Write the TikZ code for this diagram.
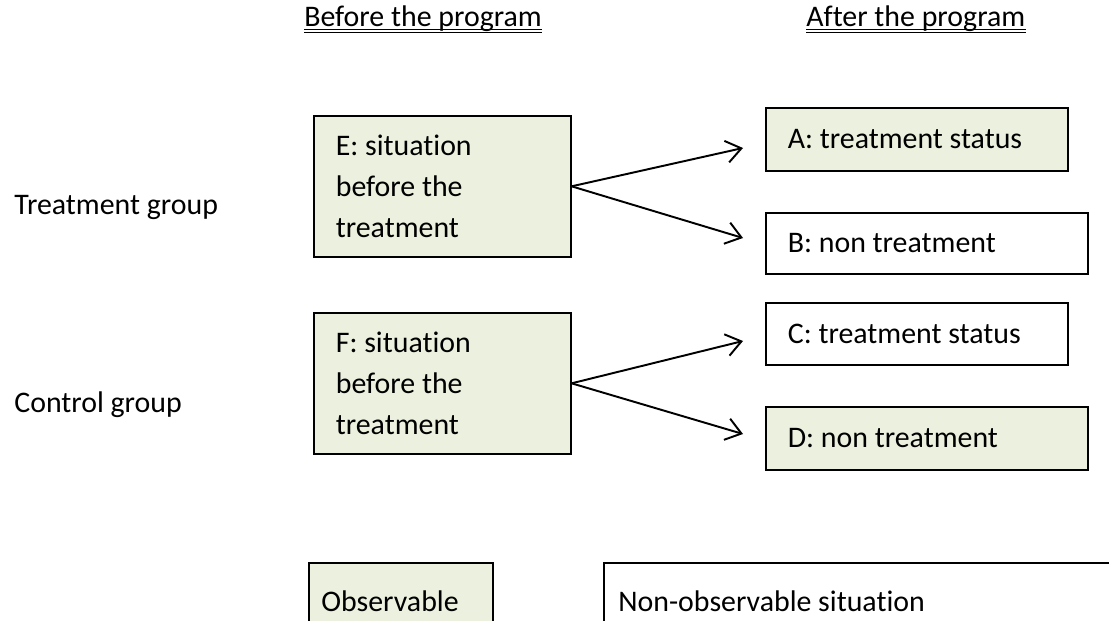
\documentclass[tikz,border=0pt]{standalone}
\usepackage{fontspec}
\setmainfont{Carlito}[Ligatures=NoCommon]
\usepackage{tikz}
\usetikzlibrary{arrows.meta}
\definecolor{obsgreen}{RGB}{235,241,222}
\tikzset{>={Straight Barb[length=0.3cm,width=0.44cm]}}
\tikzset{
  box/.style={draw, line width=0.95pt, anchor=north west, inner xsep=0.44cm, inner ysep=0pt, align=flush left},
  title/.style={anchor=base west, inner sep=0pt},
  uline/.style={line width=0.6pt},
}

\begin{document}
\begin{tikzpicture}[x=0.02cm, y=-0.02cm, font=\fontsize{17}{23.3}\selectfont]
      \clip (0,0) rectangle (1109,621);
      \node[title] (T1) at (304,27) {Before the program};
      \node[title] (T2) at (806,27) {After the program};
      \draw[uline] ([yshift=-0.05cm]T1.base west) -- ([yshift=-0.05cm]T1.base east);
      \draw[uline] ([yshift=-0.11cm]T1.base west) -- ([yshift=-0.11cm]T1.base east);
      \draw[uline] ([yshift=-0.05cm]T2.base west) -- ([yshift=-0.05cm]T2.base east);
      \draw[uline] ([yshift=-0.11cm]T2.base west) -- ([yshift=-0.11cm]T2.base east);
      \node[title] (G1) at (14,215) {Treatment group};
      \node[title] (G2) at (14,413) {Control group};
      \node[box, fill=obsgreen, minimum width=5.14cm, text width=4.26cm, minimum height=2.82cm] (E) at (313,115) {E: situation\\before the\\treatment};
      \node[box, fill=obsgreen, minimum width=5.14cm, text width=4.26cm, minimum height=2.82cm] (F) at (313,312) {F: situation\\before the\\treatment};
      \node[box, fill=obsgreen, minimum width=6.04cm, text width=5.16cm, minimum height=1.26cm] (A) at (765,107) {A: treatment status};
      \node[box, minimum width=6.44cm, text width=5.56cm, minimum height=1.22cm] (B) at (765,212) {B: non treatment};
      \node[box, minimum width=6.04cm, text width=5.16cm, minimum height=1.24cm] (C) at (765,302) {C: treatment status};
      \node[box, fill=obsgreen, minimum width=6.44cm, text width=5.56cm, minimum height=1.26cm] (D) at (765,406) {D: non treatment};
      % legend boxes run off the bottom edge
      \draw[line width=0.95pt, fill=obsgreen] (309,630) |- (493,563) -- (493,630);
      \draw[line width=0.95pt] (604,630) |- (1120,563);
      \node[title] (O) at (321,611) {Observable};
      \node[title] (N) at (618,611) {Non-observable situation};
      \coordinate (eA) at (743,148);
      \coordinate (eB) at (743,238);
      \coordinate (fC) at (743,341);
      \coordinate (fD) at (743,434);
      \draw[->, line width=1.1pt] (E.east) -- (eA);
      \draw[->, line width=1.1pt] (E.east) -- (eB);
      \draw[->, line width=1.1pt] (F.east) -- (fC);
      \draw[->, line width=1.1pt] (F.east) -- (fD);
\end{tikzpicture}
\end{document}
